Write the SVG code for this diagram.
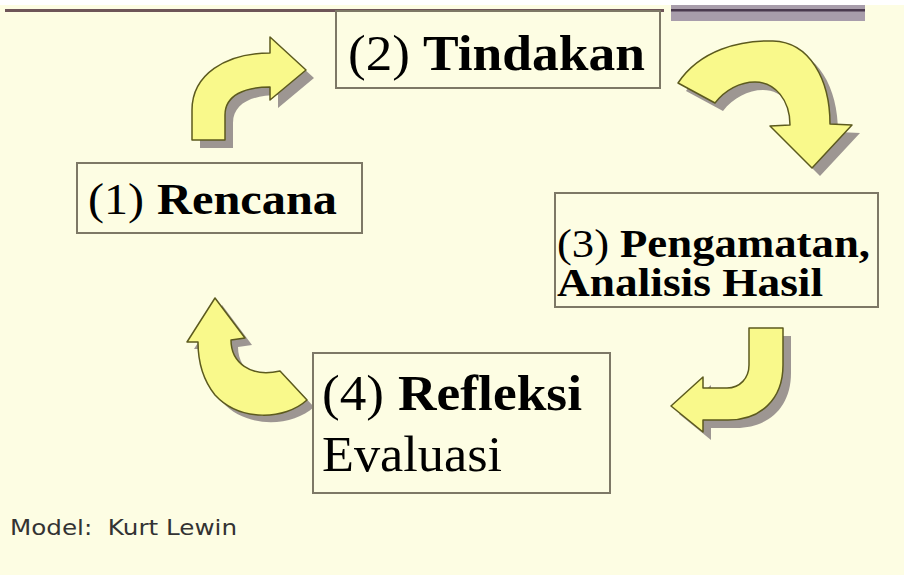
<svg xmlns="http://www.w3.org/2000/svg" xmlns:xlink="http://www.w3.org/1999/xlink" width="904" height="575" viewBox="0 0 904 575">
<style>
.box{fill:#fdfde3;stroke:#7d7866;stroke-width:2}
.t{fill:#000}
.b{font-weight:bold}
.arr{fill:#f9f98b;stroke:#5c5a1e;stroke-width:1.5;stroke-linejoin:round}
.sh{fill:#8c8484;opacity:0.85}
</style>
<defs>
<path id="a1" d="M192 140 L192 110 C192 75 225 53 270 53 L270 37 L306 70 L270 100 L270 87 C245 87 225 95 225 115 L225 140 Z"/>
<path id="a2" d="M678 83 C700 50 740 40 773 41 C810 42 830 80 830 124 L852 125 L812 168 L770 126 L790 125 C790 100 775 82 755 82 C740 82 725 90 715 103 Z"/>
<path id="a3" d="M749 328 L783 328 L783 365 C783 400 760 420 728 420 L703 420 L703 432 L671 406 L703 377 L703 388 L727 388 C740 388 749 378 749 365 Z"/>
<path id="a4" d="M198 342 L187 342 L215 298 L245 338 L231 340 C231 362 250 378 280 371 L307 400 C285 420 240 422 215 395 C203 380 198 362 198 342 Z"/>
</defs>
<rect x="0" y="0" width="904" height="575" fill="#fdfde3"/>
<rect x="0" y="0" width="904" height="5" fill="#ffffff"/>
<rect x="5" y="9" width="659" height="3" fill="#6e5558"/>
<rect x="671" y="5" width="194" height="16" fill="#a89dab"/>
<rect x="671" y="9" width="194" height="2.5" fill="#4a3a4e"/>
<g id="connectors">
<use xlink:href="#a1" class="sh" transform="translate(8,8)"/>
<use xlink:href="#a2" class="sh" transform="translate(8,8)"/>
<use xlink:href="#a3" class="sh" transform="translate(8,8)"/>
<use xlink:href="#a4" class="sh" transform="translate(7,7)"/>
<use xlink:href="#a1" class="arr"/>
<use xlink:href="#a2" class="arr"/>
<use xlink:href="#a3" class="arr"/>
<use xlink:href="#a4" class="arr"/>
</g>
<g font-family="'Liberation Serif','Times New Roman',Tinos,'Nimbus Roman',serif">
<g id="node1">
<rect class="box" x="77" y="163" width="285" height="70"/>
<text class="t" x="88" y="214" font-size="45" textLength="56" lengthAdjust="spacingAndGlyphs">(1)</text>
<text class="t b" x="157" y="214" font-size="45" textLength="180" lengthAdjust="spacingAndGlyphs">Rencana</text>
</g>
<g id="node2">
<rect class="box" x="336" y="11" width="324" height="77"/>
<text class="t" x="348" y="70" font-size="50" textLength="62" lengthAdjust="spacingAndGlyphs">(2)</text>
<text class="t b" x="423" y="70" font-size="50" textLength="222" lengthAdjust="spacingAndGlyphs">Tindakan</text>
</g>
<g id="node3">
<rect class="box" x="555" y="193" width="323" height="114"/>
<text class="t" x="557" y="257" font-size="41" textLength="52" lengthAdjust="spacingAndGlyphs">(3)</text>
<text class="t b" x="620" y="257" font-size="41" textLength="250" lengthAdjust="spacingAndGlyphs">Pengamatan,</text>
<text class="t b" x="557" y="296" font-size="41" textLength="266" lengthAdjust="spacingAndGlyphs">Analisis Hasil</text>
</g>
<g id="node4">
<rect class="box" x="313" y="353" width="297" height="140"/>
<text class="t" x="322" y="410" font-size="50" textLength="62" lengthAdjust="spacingAndGlyphs">(4)</text>
<text class="t b" x="398" y="410" font-size="50" textLength="184" lengthAdjust="spacingAndGlyphs">Refleksi</text>
<text class="t" x="322" y="471" font-size="50" textLength="180" lengthAdjust="spacingAndGlyphs">Evaluasi</text>
</g>
</g>
<text x="10" y="535" font-family="'DejaVu Sans',Verdana,sans-serif" font-size="22" fill="#333" textLength="227" lengthAdjust="spacingAndGlyphs">Model:&#160; Kurt Lewin</text>
</svg>
